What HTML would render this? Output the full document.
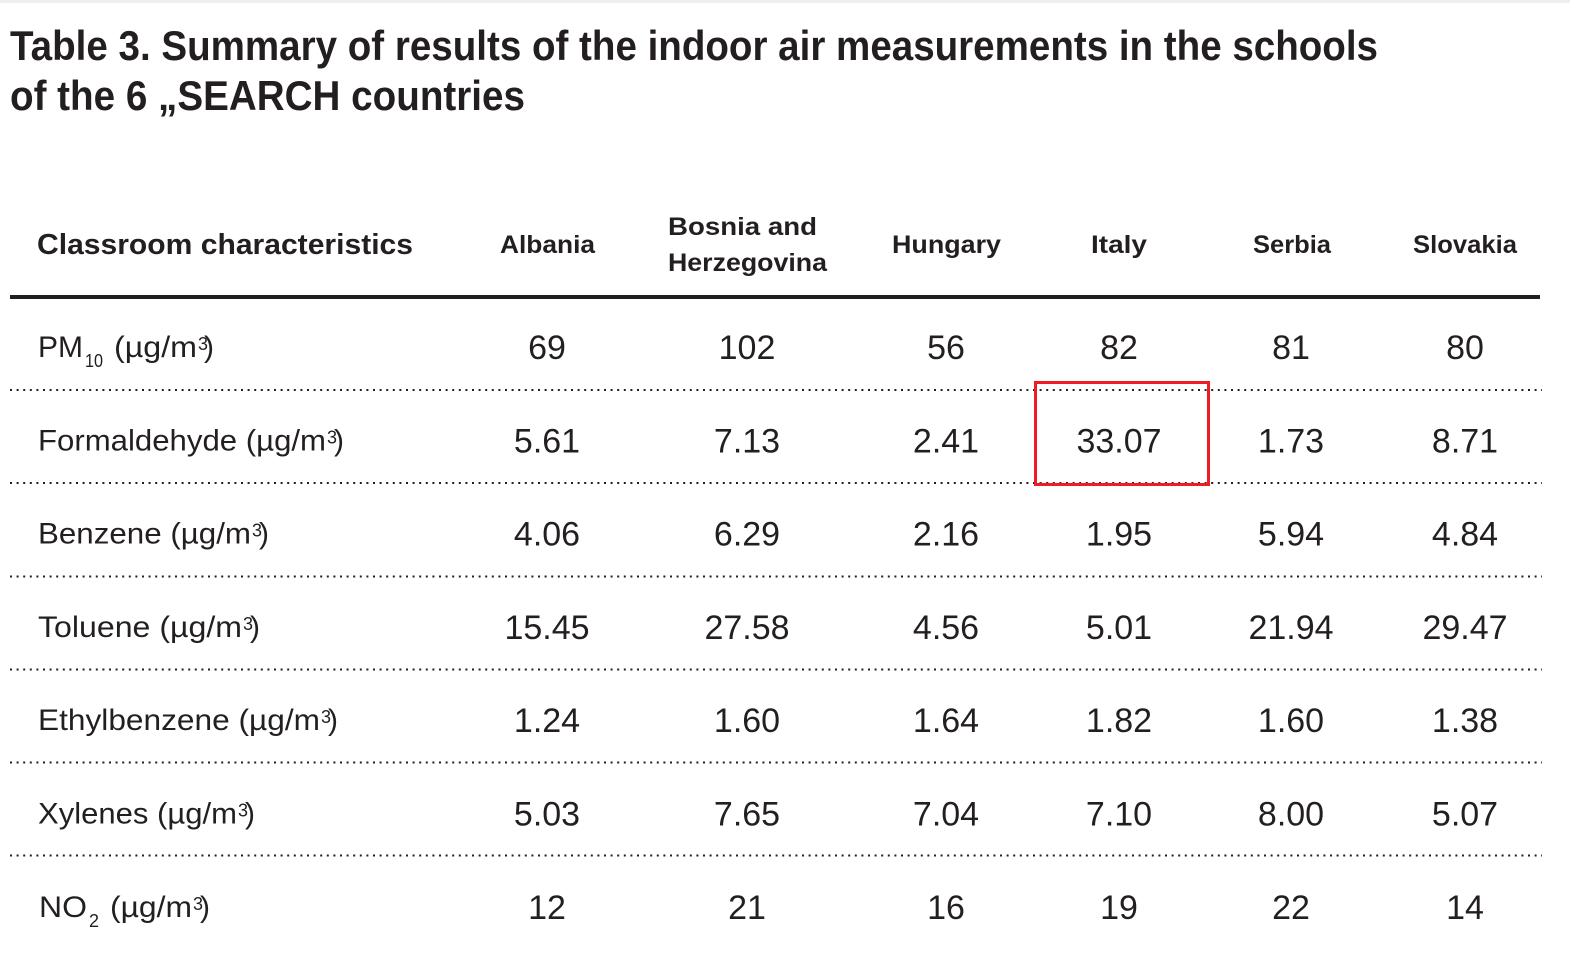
<!DOCTYPE html>
<html>
<head>
<meta charset="utf-8">
<style>
  html,body{margin:0;padding:0;background:#fff;}
  svg{display:block;}
  text{font-family:"Liberation Sans", sans-serif; fill:#231f20;}
  .t{font-weight:bold;font-size:42px;}
  .h{font-weight:bold;font-size:29px;}
  .c{font-weight:bold;font-size:25px;}
  .l{font-size:30px;}
  .s{font-size:18px;}
  .v{font-size:34px;text-anchor:middle;}
</style>
</head>
<body>
<svg width="1570" height="970" viewBox="0 0 1570 970" xmlns="http://www.w3.org/2000/svg">
  <rect x="0" y="0" width="1570" height="970" fill="#fff"/>
  <rect x="0" y="0" width="1570" height="3" fill="#efefef"/>

  <!-- Title -->
  <text class="t" x="10" y="60" textLength="1368" lengthAdjust="spacingAndGlyphs">Table 3. Summary of results of the indoor air measurements in the schools</text>
  <text class="t" x="10" y="110" textLength="515" lengthAdjust="spacingAndGlyphs">of the 6 „SEARCH countries</text>

  <!-- Header -->
  <text class="h" x="37" y="254" textLength="376" lengthAdjust="spacingAndGlyphs">Classroom characteristics</text>
  <text class="c" x="500" y="253" textLength="95" lengthAdjust="spacingAndGlyphs">Albania</text>
  <text class="c" x="668" y="235" textLength="149" lengthAdjust="spacingAndGlyphs">Bosnia and</text>
  <text class="c" x="668" y="271" textLength="159" lengthAdjust="spacingAndGlyphs">Herzegovina</text>
  <text class="c" x="892" y="253" textLength="109" lengthAdjust="spacingAndGlyphs">Hungary</text>
  <text class="c" x="1091" y="253" textLength="56" lengthAdjust="spacingAndGlyphs">Italy</text>
  <text class="c" x="1253" y="253" textLength="78" lengthAdjust="spacingAndGlyphs">Serbia</text>
  <text class="c" x="1413" y="253" textLength="104" lengthAdjust="spacingAndGlyphs">Slovakia</text>

  <!-- Thick rule -->
  <rect x="10" y="295" width="1530" height="4" fill="#231f20"/>

  <!-- Dotted rules -->
  <g stroke="#231f20" stroke-width="2" stroke-dasharray="2 4.6" fill="none">
    <line x1="10" y1="390" x2="1542" y2="390"/>
    <line x1="10" y1="483" x2="1542" y2="483"/>
    <line x1="10" y1="576.5" x2="1542" y2="576.5"/>
    <line x1="10" y1="669.5" x2="1542" y2="669.5"/>
    <line x1="10" y1="762.5" x2="1542" y2="762.5"/>
    <line x1="10" y1="855.5" x2="1542" y2="855.5"/>
  </g>

  <!-- Row labels -->
  <!-- PM10 -->
  <text class="l" x="38" y="357" textLength="45" lengthAdjust="spacingAndGlyphs">PM</text>
  <text class="s" x="85" y="367" textLength="18" lengthAdjust="spacingAndGlyphs">10</text>
  <text class="l" x="114" y="357" textLength="83" lengthAdjust="spacingAndGlyphs">(µg/m</text>
  <text class="s" x="198" y="350">3</text>
  <text class="l" x="204" y="357">)</text>

  <!-- Formaldehyde -->
  <text class="l" x="38" y="450.3" textLength="288" lengthAdjust="spacingAndGlyphs">Formaldehyde (µg/m</text>
  <text class="s" x="327" y="443.3">3</text>
  <text class="l" x="334" y="450.3">)</text>

  <!-- Benzene -->
  <text class="l" x="38" y="543.6" textLength="213" lengthAdjust="spacingAndGlyphs">Benzene (µg/m</text>
  <text class="s" x="252" y="536.6">3</text>
  <text class="l" x="259" y="543.6">)</text>

  <!-- Toluene -->
  <text class="l" x="38" y="636.9" textLength="204" lengthAdjust="spacingAndGlyphs">Toluene (µg/m</text>
  <text class="s" x="243" y="629.9">3</text>
  <text class="l" x="250" y="636.9">)</text>

  <!-- Ethylbenzene -->
  <text class="l" x="38" y="730.2" textLength="282" lengthAdjust="spacingAndGlyphs">Ethylbenzene (µg/m</text>
  <text class="s" x="321" y="723.2">3</text>
  <text class="l" x="328" y="730.2">)</text>

  <!-- Xylenes -->
  <text class="l" x="38" y="823.5" textLength="199" lengthAdjust="spacingAndGlyphs">Xylenes (µg/m</text>
  <text class="s" x="238" y="816.5">3</text>
  <text class="l" x="245" y="823.5">)</text>

  <!-- NO2 -->
  <text class="l" x="39" y="917" textLength="48" lengthAdjust="spacingAndGlyphs">NO</text>
  <text class="s" x="89" y="927">2</text>
  <text class="l" x="110" y="917" textLength="82" lengthAdjust="spacingAndGlyphs">(µg/m</text>
  <text class="s" x="193" y="910">3</text>
  <text class="l" x="200" y="917">)</text>

  <!-- Values -->
  <g>
    <text class="v" x="547" y="359">69</text>
    <text class="v" x="747" y="359">102</text>
    <text class="v" x="946" y="359">56</text>
    <text class="v" x="1119" y="359">82</text>
    <text class="v" x="1291" y="359">81</text>
    <text class="v" x="1465" y="359">80</text>

    <text class="v" x="547" y="452.3">5.61</text>
    <text class="v" x="747" y="452.3">7.13</text>
    <text class="v" x="946" y="452.3">2.41</text>
    <text class="v" x="1119" y="452.3">33.07</text>
    <text class="v" x="1291" y="452.3">1.73</text>
    <text class="v" x="1465" y="452.3">8.71</text>

    <text class="v" x="547" y="545.6">4.06</text>
    <text class="v" x="747" y="545.6">6.29</text>
    <text class="v" x="946" y="545.6">2.16</text>
    <text class="v" x="1119" y="545.6">1.95</text>
    <text class="v" x="1291" y="545.6">5.94</text>
    <text class="v" x="1465" y="545.6">4.84</text>

    <text class="v" x="547" y="638.9">15.45</text>
    <text class="v" x="747" y="638.9">27.58</text>
    <text class="v" x="946" y="638.9">4.56</text>
    <text class="v" x="1119" y="638.9">5.01</text>
    <text class="v" x="1291" y="638.9">21.94</text>
    <text class="v" x="1465" y="638.9">29.47</text>

    <text class="v" x="547" y="732.2">1.24</text>
    <text class="v" x="747" y="732.2">1.60</text>
    <text class="v" x="946" y="732.2">1.64</text>
    <text class="v" x="1119" y="732.2">1.82</text>
    <text class="v" x="1291" y="732.2">1.60</text>
    <text class="v" x="1465" y="732.2">1.38</text>

    <text class="v" x="547" y="825.5">5.03</text>
    <text class="v" x="747" y="825.5">7.65</text>
    <text class="v" x="946" y="825.5">7.04</text>
    <text class="v" x="1119" y="825.5">7.10</text>
    <text class="v" x="1291" y="825.5">8.00</text>
    <text class="v" x="1465" y="825.5">5.07</text>

    <text class="v" x="547" y="918.8">12</text>
    <text class="v" x="747" y="918.8">21</text>
    <text class="v" x="946" y="918.8">16</text>
    <text class="v" x="1119" y="918.8">19</text>
    <text class="v" x="1291" y="918.8">22</text>
    <text class="v" x="1465" y="918.8">14</text>
  </g>

  <!-- Red highlight box -->
  <rect x="1035.5" y="382.5" width="173" height="102" fill="none" stroke="#ee1c25" stroke-width="3"/>
</svg>
</body>
</html>
